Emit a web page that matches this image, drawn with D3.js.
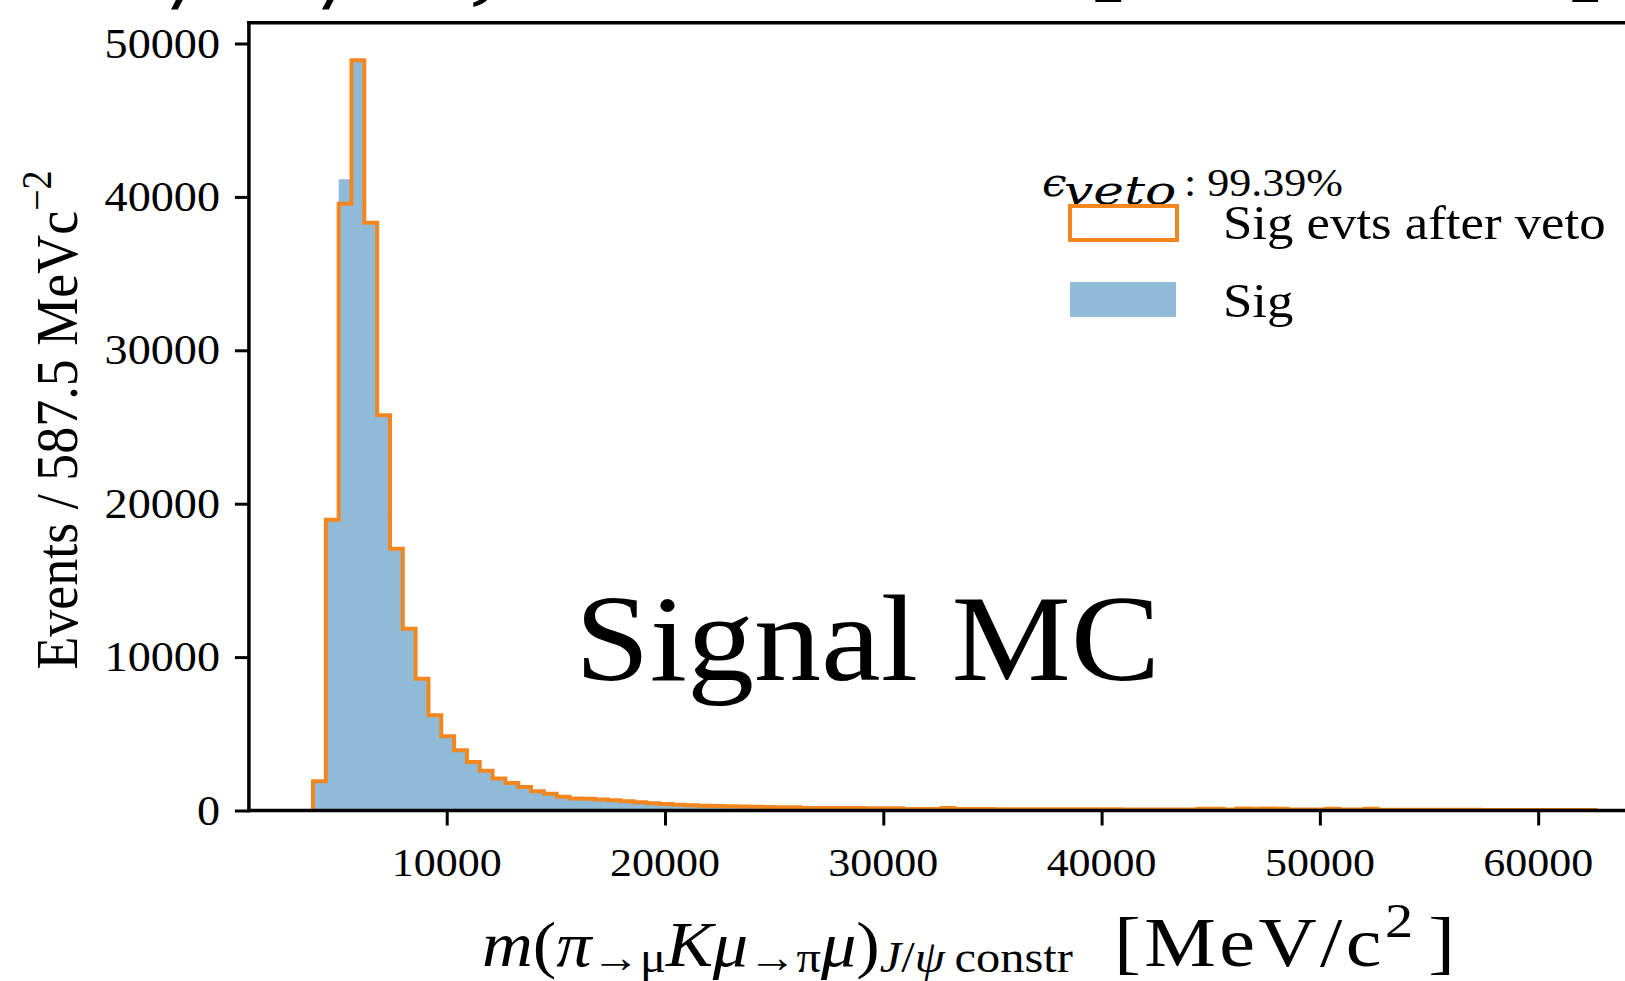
<!DOCTYPE html>
<html>
<head>
<meta charset="utf-8">
<script src="https://cdn.jsdelivr.net/npm/d3@7"></script>
<style>
  html, body { margin: 0; padding: 0; background: #ffffff; overflow: hidden; }
  svg { display: block; }
</style>
</head>
<body>
<svg id="chart" width="1625" height="981"></svg>
<script>
// Histogram binning: 100 bins of 587.5 MeV/c^2 starting at 3875
const binLow = 3875;
const binWidth = 587.5;

// Signal candidates surviving the veto (events per bin)
const sigAfterVeto = [
  1900, 18950, 39560, 48900, 38320, 25760, 17070, 11850, 8590, 6205,
  4835, 3920, 3160, 2590, 2090, 1790, 1530, 1250, 1095, 900,
  790, 760, 720, 665, 600, 535, 470, 425, 380, 340,
  315, 295, 275, 255, 240, 225, 215, 205, 170, 165,
  160, 160, 155, 150, 150, 145, 100, 95, 95, 160,
  95, 90, 90, 88, 85, 85, 82, 80, 80, 78,
  78, 75, 75, 72, 72, 70, 70, 68, 68, 120,
  120, 70, 125, 120, 125, 120, 65, 62, 60, 120,
  60, 58, 115, 55, 52, 50, 50, 48, 45, 45,
  42, 40, 40, 38, 36, 35, 34, 32, 30, 30
];

// All signal candidates (events per bin)
const sigAll = [
  1900, 18950, 41150, 48900, 38320, 25760, 17070, 11850, 8590, 6205,
  4835, 3920, 3160, 2590, 2090, 1790, 1530, 1250, 1095, 900,
  790, 760, 720, 665, 600, 535, 470, 425, 380, 340,
  315, 295, 275, 255, 240, 225, 215, 205, 170, 165,
  160, 160, 155, 150, 150, 145, 100, 95, 95, 160,
  95, 90, 90, 88, 85, 85, 82, 80, 80, 78,
  78, 75, 75, 72, 72, 70, 70, 68, 68, 120,
  120, 70, 125, 120, 125, 120, 65, 62, 60, 120,
  60, 58, 115, 55, 52, 50, 50, 48, 45, 45,
  42, 40, 40, 38, 36, 35, 34, 32, 30, 30
];

const xTicks = [10000, 20000, 30000, 40000, 50000, 60000];
const yTicks = [0, 10000, 20000, 30000, 40000, 50000];
const vetoEfficiency = "99.39%";
const legendLabels = ["Sig evts after veto", "Sig"];

// ---- styling ----
const SERIF = "'Liberation Serif', 'Times New Roman', 'DejaVu Serif', serif";
const MATH = "'DejaVu Serif', 'Liberation Serif', serif";
const SX = 1.1;                 // horizontal stretch of the text
const BLUE = "#8fbbd9";
const ORANGE = "#f3861f";
const INK = "#000000";

const svg = d3.select("#chart");

const nBins = sigAll.length;
const edges = d3.range(nBins + 1).map(i => binLow + i * binWidth);
const xLo = edges[0], xHi = edges[nBins];
const xPad = 0.05 * (xHi - xLo);
const yMax = 1.05 * d3.max(sigAll);

const x = d3.scaleLinear().domain([xLo - xPad, xHi + xPad]).range([248.9, 1659.6]);
const y = d3.scaleLinear().domain([0, 50000]).range([810.5, 43.5]);

// step outline of a histogram, closed down to zero at both ends
function stepPoints(vals) {
  const pts = [[edges[0], 0]];
  vals.forEach((v, i) => { pts.push([edges[i], v]); pts.push([edges[i + 1], v]); });
  pts.push([edges[nBins], 0]);
  return pts;
}

const area = d3.area().x(d => x(d[0])).y0(y(0)).y1(d => y(d[1]));
const line = d3.line().x(d => x(d[0])).y(d => y(d[1]));

// filled histogram: all signal
svg.append("path")
  .attr("d", area(stepPoints(sigAll)))
  .attr("fill", BLUE)
  .attr("stroke", "none");

// outline histogram: after veto
svg.append("path")
  .attr("d", line(stepPoints(sigAfterVeto)))
  .attr("fill", "none")
  .attr("stroke", ORANGE)
  .attr("stroke-width", 4)
  .attr("stroke-linejoin", "miter");

// ---- axes frame ----
const frameL = x.range()[0], frameR = x.range()[1];
const frameB = y(0), frameT = y(yMax);
const frame = svg.append("g").attr("stroke", INK).attr("stroke-width", 3.5).attr("fill", "none");
frame.append("line").attr("x1", frameL).attr("x2", frameL).attr("y1", frameT - 1.75).attr("y2", frameB + 1.75);
frame.append("line").attr("x1", frameL - 1.75).attr("x2", frameR).attr("y1", frameB).attr("y2", frameB);
frame.append("line").attr("x1", frameL - 1.75).attr("x2", frameR).attr("y1", frameT).attr("y2", frameT);
frame.append("line").attr("x1", frameR).attr("x2", frameR).attr("y1", frameT).attr("y2", frameB);

// ---- x axis ----
const xAxis = svg.append("g").attr("transform", `translate(0,${frameB})`)
  .call(d3.axisBottom(x).tickValues(xTicks).tickSize(15).tickSizeOuter(0).tickFormat(""));
xAxis.select(".domain").remove();
xAxis.selectAll(".tick line").attr("stroke", INK).attr("stroke-width", 3);

xTicks.forEach(t => {
  svg.append("text")
    .attr("transform", `translate(${x(t)},876) scale(${SX},1)`)
    .attr("text-anchor", "middle")
    .attr("font-family", SERIF).attr("font-size", 40).attr("fill", INK)
    .text(d3.format("d")(t));
});

// ---- y axis ----
const yAxis = svg.append("g").attr("transform", `translate(${frameL},0)`)
  .call(d3.axisLeft(y).tickValues(yTicks).tickSize(14).tickSizeOuter(0).tickFormat(""));
yAxis.select(".domain").remove();
yAxis.selectAll(".tick line").attr("stroke", INK).attr("stroke-width", 3);

yTicks.forEach(t => {
  svg.append("text")
    .attr("transform", `translate(220,${y(t) + 14}) scale(${SX},1)`)
    .attr("text-anchor", "end")
    .attr("font-family", SERIF).attr("font-size", 42).attr("fill", INK)
    .text(d3.format("d")(t));
});

// y label: Events / 587.5 MeVc^-2
const yl = svg.append("text")
  .attr("transform", `translate(77,420) scale(${SX},1) rotate(-90)`)
  .attr("text-anchor", "middle")
  .attr("font-family", SERIF).attr("font-size", 54).attr("fill", INK);
yl.append("tspan").text(`Events / ${binWidth} MeVc`);
yl.append("tspan").attr("dy", -24).attr("font-size", 38).text("\u2212");
yl.append("tspan").attr("font-size", 38).text("2");

// x label, mass part: m(pi->mu K mu->pi mu)_{J/psi constr}
const xlParts = [
  { t: "m", it: true }, { t: "(" }, { t: "\u03C0", it: true },
  { t: "\u2192\u03BC", shift: 6 },
  { t: "K", it: true }, { t: "\u03BC", it: true },
  { t: "\u2192\u03C0", shift: 6 },
  { t: "\u03BC", it: true }, { t: ")" },
  { t: "J", it: true, shift: 6 }, { t: "/", shift: 6 }, { t: "\u03C8", it: true, shift: 6 },
  { t: "\u2009constr", shift: 6 }
];
const xl = svg.append("text")
  .attr("transform", `translate(482,966) scale(${SX},1)`)
  .attr("font-family", SERIF).attr("font-size", 64).attr("fill", INK);
let cur = 0;
xlParts.forEach(p => {
  const s = p.shift || 0;
  xl.append("tspan")
    .attr("dy", s - cur)
    .attr("font-size", s ? 44 : 64)
    .attr("font-style", p.it ? "italic" : "normal")
    .text(p.t);
  cur = s;
});

// x label, unit part: [MeV/c^2]
const xu = svg.append("text")
  .attr("transform", `translate(1114,966) scale(1.15,1)`)
  .attr("font-family", SERIF).attr("font-size", 70).attr("fill", INK)
  .attr("letter-spacing", 3);
xu.append("tspan").text("[MeV/c");
xu.append("tspan").attr("dy", -29).attr("font-size", 49).text("2");
xu.append("tspan").attr("dy", 29).attr("dx", 10).text("]");

// ---- legend ----
svg.append("text")
  .attr("transform", `translate(1042,196) scale(${SX},1)`)
  .attr("font-family", MATH).attr("font-size", 40).attr("font-style", "italic").attr("fill", INK)
  .text("\u03F5");
svg.append("text")
  .attr("transform", `translate(1064,204) scale(1.3,1)`)
  .attr("font-family", MATH).attr("font-size", 40).attr("font-style", "italic").attr("fill", INK)
  .text("veto");
svg.append("text")
  .attr("transform", `translate(1184,196) scale(${SX},1)`)
  .attr("font-family", SERIF).attr("font-size", 40).attr("fill", INK)
  .text(": " + vetoEfficiency);

svg.append("rect")
  .attr("x", 1070).attr("y", 206).attr("width", 107).attr("height", 34)
  .attr("fill", "none").attr("stroke", ORANGE).attr("stroke-width", 4);
svg.append("rect")
  .attr("x", 1070).attr("y", 282).attr("width", 106).attr("height", 35)
  .attr("fill", BLUE);

legendLabels.forEach((lab, i) => {
  svg.append("text")
    .attr("transform", `translate(1223,${239 + i * 78}) scale(${SX},1)`)
    .attr("font-family", SERIF).attr("font-size", 48).attr("fill", INK)
    .text(lab);
});

// ---- annotation ----
svg.append("text")
  .attr("transform", `translate(575,680) scale(${SX},1)`)
  .attr("font-family", SERIF).attr("font-size", 122).attr("fill", INK)
  .text("Signal MC");

// ---- slide heading running off the top edge ----
const head = svg.append("g").attr("font-family", SERIF).attr("font-weight", "bold").attr("font-size", 100).attr("fill", INK);
head.append("text").attr("x", 177).attr("y", 8).attr("font-style", "italic").text("/");
head.append("text").attr("x", 328).attr("y", 8).attr("font-style", "italic").text("/");
head.append("text").attr("x", 472).attr("y", -8).text(",");
head.append("text").attr("x", 1094).attr("y", -19).text("p");
head.append("text").attr("x", 1571).attr("y", -19).text("p");
</script>
</body>
</html>
